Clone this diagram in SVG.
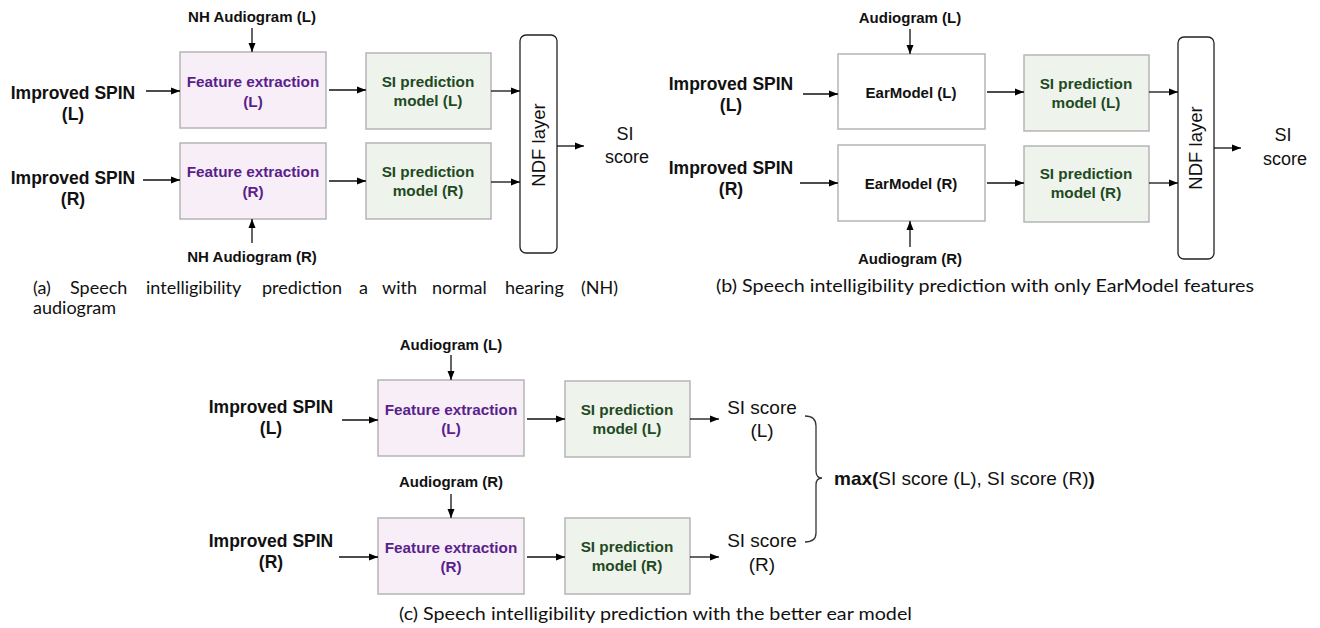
<svg xmlns="http://www.w3.org/2000/svg" width="1320" height="628" viewBox="0 0 1320 628">
<defs>
<marker id="ah" markerUnits="userSpaceOnUse" markerWidth="10" markerHeight="8" refX="9" refY="4" orient="auto">
<path d="M0,0.5 L9,4 L0,7.5 z" fill="#000"/>
</marker>
<style>
.lbl{font-family:"Liberation Sans",Arial,sans-serif;font-weight:bold;fill:#111;text-anchor:middle}
.in{font-size:17.5px}
.aud{font-size:15px}
.fe{fill:#f7eef7;stroke:#b5b5b5;stroke-width:1.5}
.fet{font-family:"Liberation Sans",Arial,sans-serif;font-weight:bold;font-size:15.3px;fill:#5a1f8c;text-anchor:middle}
.si{fill:#eef3ec;stroke:#b5b5b5;stroke-width:1.5}
.sit{font-family:"Liberation Sans",Arial,sans-serif;font-weight:bold;font-size:15.3px;fill:#1f4a1f;text-anchor:middle}
.ear{fill:#fff;stroke:#b5b5b5;stroke-width:1.5}
.ndf{fill:#fff;stroke:#222;stroke-width:1.3}
.plain{font-family:"Liberation Sans",Arial,sans-serif;fill:#111;text-anchor:middle}
.cap{font-family:Lato,"DejaVu Sans",sans-serif;font-size:18px;fill:#111}
.con line{stroke:#111;stroke-width:1.3;marker-end:url(#ah)}
</style>
</defs>
<rect width="1320" height="628" fill="#fff"/>

<!-- Panel (a) -->
<g id="a-in-l"><text class="lbl in" x="73" y="99">Improved SPIN</text><text class="lbl in" x="73" y="120">(L)</text></g>
<g id="a-in-r"><text class="lbl in" x="73" y="184">Improved SPIN</text><text class="lbl in" x="73" y="205">(R)</text></g>
<g id="a-aud-l"><text class="lbl aud" x="252" y="22">NH Audiogram (L)</text></g>
<g id="a-aud-r"><text class="lbl aud" x="252" y="262">NH Audiogram (R)</text></g>
<g id="a-fe-l"><rect class="fe" x="180" y="52" width="146" height="76"/><text class="fet" x="253" y="87">Feature extraction</text><text class="fet" x="253" y="107">(L)</text></g>
<g id="a-fe-r"><rect class="fe" x="180" y="143" width="146" height="76"/><text class="fet" x="253" y="177">Feature extraction</text><text class="fet" x="253" y="197">(R)</text></g>
<g id="a-si-l"><rect class="si" x="366" y="53" width="125" height="76"/><text class="sit" x="428" y="87">SI prediction</text><text class="sit" x="428" y="106">model (L)</text></g>
<g id="a-si-r"><rect class="si" x="366" y="143" width="125" height="76"/><text class="sit" x="428" y="177">SI prediction</text><text class="sit" x="428" y="196">model (R)</text></g>
<g id="a-ndf"><rect class="ndf" x="520" y="35" width="37" height="218" rx="6"/><text class="plain" font-size="18.5" transform="translate(545,145) rotate(-90)">NDF layer</text></g>
<g id="a-out"><text class="plain" font-size="18" x="625" y="140">SI</text><text class="plain" font-size="18" x="627" y="163">score</text></g>

<!-- Panel (b) -->
<g id="b-in-l"><text class="lbl in" x="731" y="90">Improved SPIN</text><text class="lbl in" x="731" y="111">(L)</text></g>
<g id="b-in-r"><text class="lbl in" x="731" y="174">Improved SPIN</text><text class="lbl in" x="731" y="195">(R)</text></g>
<g id="b-aud-l"><text class="lbl aud" x="910" y="23">Audiogram (L)</text></g>
<g id="b-aud-r"><text class="lbl aud" x="910" y="264">Audiogram (R)</text></g>
<g id="b-ear-l"><rect class="ear" x="838" y="54" width="147" height="75"/><text class="lbl aud" x="911" y="98">EarModel (L)</text></g>
<g id="b-ear-r"><rect class="ear" x="838" y="145" width="147" height="76"/><text class="lbl aud" x="911" y="189">EarModel (R)</text></g>
<g id="b-si-l"><rect class="si" x="1024" y="55" width="125" height="76"/><text class="sit" x="1086" y="89">SI prediction</text><text class="sit" x="1086" y="108">model (L)</text></g>
<g id="b-si-r"><rect class="si" x="1024" y="146" width="125" height="76"/><text class="sit" x="1086" y="179">SI prediction</text><text class="sit" x="1086" y="198">model (R)</text></g>
<g id="b-ndf"><rect class="ndf" x="1178" y="37" width="36" height="222" rx="6"/><text class="plain" font-size="18.5" transform="translate(1202,148) rotate(-90)">NDF layer</text></g>
<g id="b-out"><text class="plain" font-size="18" x="1283" y="141">SI</text><text class="plain" font-size="18" x="1285" y="165">score</text></g>

<!-- Panel (c) -->
<g id="c-in-l"><text class="lbl in" x="271" y="413">Improved SPIN</text><text class="lbl in" x="271" y="434">(L)</text></g>
<g id="c-in-r"><text class="lbl in" x="271" y="547">Improved SPIN</text><text class="lbl in" x="271" y="568">(R)</text></g>
<g id="c-aud-l"><text class="lbl aud" x="451" y="350">Audiogram (L)</text></g>
<g id="c-aud-r"><text class="lbl aud" x="451" y="487">Audiogram (R)</text></g>
<g id="c-fe-l"><rect class="fe" x="378" y="380" width="146" height="76"/><text class="fet" x="451" y="415">Feature extraction</text><text class="fet" x="451" y="434">(L)</text></g>
<g id="c-fe-r"><rect class="fe" x="378" y="518" width="146" height="76"/><text class="fet" x="451" y="553">Feature extraction</text><text class="fet" x="451" y="572">(R)</text></g>
<g id="c-si-l"><rect class="si" x="565" y="381" width="125" height="76"/><text class="sit" x="627" y="415">SI prediction</text><text class="sit" x="627" y="434">model (L)</text></g>
<g id="c-si-r"><rect class="si" x="565" y="518" width="125" height="76"/><text class="sit" x="627" y="552">SI prediction</text><text class="sit" x="627" y="571">model (R)</text></g>
<g id="c-out-l"><text class="plain" font-size="19" x="762" y="414">SI score</text><text class="plain" font-size="19" x="762" y="437">(L)</text></g>
<g id="c-out-r"><text class="plain" font-size="19" x="762" y="547">SI score</text><text class="plain" font-size="19" x="762" y="571">(R)</text></g>
<g id="c-max"><path d="M805,416 Q816,416 816,426 L816,471 Q816,478 822,478 Q816,478 816,485 L816,533 Q816,542 805,542" fill="none" stroke="#333" stroke-width="1.3"/>
<text font-family="'Liberation Sans',Arial,sans-serif" font-size="19" fill="#111" x="834" y="485"><tspan font-weight="bold">max(</tspan>SI score (L), SI score (R)<tspan font-weight="bold">)</tspan></text></g>

<!-- Connectors -->
<g id="connectors" class="con">
<line x1="146" y1="91" x2="180" y2="91"/>
<line x1="143" y1="180" x2="180" y2="180"/>
<line x1="252" y1="28" x2="252" y2="52"/>
<line x1="252" y1="243" x2="252" y2="219"/>
<line x1="329" y1="90" x2="366" y2="90"/>
<line x1="329" y1="181" x2="366" y2="181"/>
<line x1="491" y1="91" x2="520" y2="91"/>
<line x1="491" y1="182" x2="520" y2="182"/>
<line x1="557" y1="146" x2="584" y2="146"/>

<line x1="803" y1="94" x2="838" y2="94"/>
<line x1="800" y1="183" x2="838" y2="183"/>
<line x1="910" y1="29" x2="910" y2="54"/>
<line x1="910" y1="247" x2="910" y2="221"/>
<line x1="987" y1="92" x2="1024" y2="92"/>
<line x1="987" y1="183" x2="1024" y2="183"/>
<line x1="1149" y1="92" x2="1178" y2="92"/>
<line x1="1149" y1="183" x2="1178" y2="183"/>
<line x1="1214" y1="148" x2="1241" y2="148"/>

<line x1="342" y1="420" x2="378" y2="420"/>
<line x1="339" y1="557" x2="378" y2="557"/>
<line x1="451" y1="355" x2="451" y2="380"/>
<line x1="451" y1="494" x2="451" y2="518"/>
<line x1="527" y1="419" x2="565" y2="419"/>
<line x1="527" y1="557" x2="565" y2="557"/>
<line x1="690" y1="419" x2="719" y2="419"/>
<line x1="690" y1="557" x2="719" y2="557"/>
</g>

<!-- Captions -->
<text class="cap" y="294"><tspan x="33">(a)</tspan><tspan x="70">Speech</tspan><tspan x="146">intelligibility</tspan><tspan x="262">prediction</tspan><tspan x="359">a</tspan><tspan x="382">with</tspan><tspan x="432">normal</tspan><tspan x="505">hearing</tspan><tspan x="581">(NH)</tspan></text>
<text class="cap" x="33" y="314">audiogram</text>
<text class="cap" x="716" y="292" textLength="538" lengthAdjust="spacingAndGlyphs">(b) Speech intelligibility prediction with only EarModel features</text>
<text class="cap" x="399" y="620" textLength="513" lengthAdjust="spacingAndGlyphs">(c) Speech intelligibility prediction with the better ear model</text>
</svg>
